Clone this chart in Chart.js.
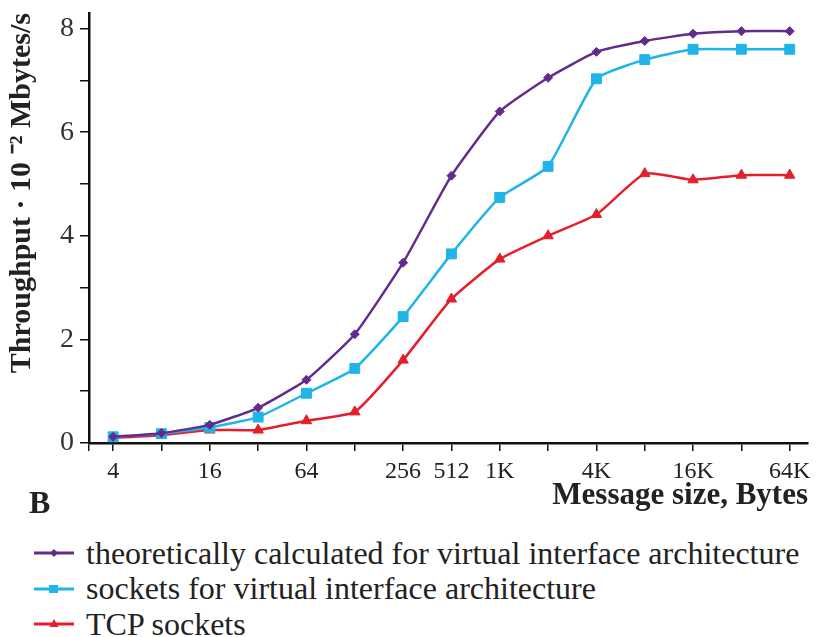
<!DOCTYPE html>
<html>
<head>
<meta charset="utf-8">
<script src="https://cdn.jsdelivr.net/npm/chart.js@4"></script>
<style>
  body { margin: 0; background: #fff; }
  #wrap { position: relative; width: 816px; height: 637px; font-family: "Liberation Serif", "Times New Roman", serif; color: #222; }
  #chart { position: absolute; left: 0; top: 0; }
  #panel { position: absolute; left: 29px; top: 484px; font-weight: bold; font-size: 32px; }
  #legend { position: absolute; left: 33px; top: 535.5px; font-size: 32px; line-height: 35.5px; }
  #legend div { display: flex; align-items: center; white-space: nowrap; height: 35.5px; }
  #legend svg { margin-right: 11px; }
</style>
</head>
<body>
<div id="wrap">
  <canvas id="chart" width="816" height="520"></canvas>
  <div id="panel">B</div>
  <div id="legend"></div>
</div>
<script>
// message sizes in bytes (x positions)
const sizes = [4, 8, 16, 32, 64, 128, 256, 512, 1024, 2048, 4096, 8192, 16384, 32768, 65536];
const sizeLabels = ['4', '', '16', '', '64', '', '256', '512', '1K', '', '4K', '', '16K', '', '64K'];
const yTicks = [0, 1, 2, 3, 4, 5, 6, 7, 8];

// throughput, 10^-2 Mbytes/s
const theoretical = [0.12, 0.19, 0.35, 0.68, 1.22, 2.1, 3.48, 5.16, 6.4, 7.05, 7.55, 7.76, 7.9, 7.95, 7.95];
const viaSockets  = [0.12, 0.18, 0.3, 0.5, 0.96, 1.44, 2.44, 3.65, 4.74, 5.34, 7.03, 7.4, 7.6, 7.6, 7.6];
const tcpSockets  = [0.1, 0.15, 0.25, 0.25, 0.43, 0.6, 1.6, 2.78, 3.55, 4.0, 4.41, 5.2, 5.08, 5.17, 5.17];

const series = [
    { label: 'theoretically calculated for virtual interface architecture', data: theoretical, color: '#632b8c', style: 'rectRot', r: 4.5 },
    { label: 'sockets for virtual interface architecture', data: viaSockets, color: '#20b4e8', style: 'rect', r: 7 },
    { label: 'TCP sockets', data: tcpSockets, color: '#e41f2b', style: 'triangle', r: 6 }
];

const xMin = 4 / Math.SQRT2;
const xMax = 65536 * 1.3;
const font = "'Liberation Serif', 'Times New Roman', serif";

new Chart(document.getElementById('chart'), {
    type: 'line',
    data: {
        datasets: series.map(s => ({
            label: s.label,
            data: sizes.map((x, i) => ({ x: x, y: s.data[i] })),
            borderColor: s.color,
            backgroundColor: s.color,
            borderWidth: 2.5,
            pointStyle: s.style,
            pointRadius: s.r,
            pointBorderWidth: 1,
            tension: 0.15
        }))
    },
    options: {
        responsive: false,
        animation: false,
        layout: { padding: { top: 13, right: 8, left: 0, bottom: 0 } },
        plugins: { legend: { display: false }, tooltip: { enabled: false } },
        scales: {
            x: {
                type: 'logarithmic',
                min: xMin,
                max: xMax,
                afterBuildTicks: scale => {
                    scale.ticks = [{ value: xMin }].concat(sizes.map(v => ({ value: v })));
                },
                afterFit: scale => {
                    scale.height = 77;
                    scale.paddingLeft = 0;
                    scale.paddingRight = 0;
                },
                ticks: {
                    autoSkip: false,
                    maxRotation: 0,
                    color: '#222',
                    font: { family: font, size: 24 },
                    padding: 6,
                    callback: (value) => {
                        const i = sizes.indexOf(value);
                        return i >= 0 ? sizeLabels[i] : '';
                    }
                },
                grid: { drawOnChartArea: false, tickLength: 8, color: '#111', lineWidth: 1.5 },
                border: { color: '#111', width: 2.5 },
                title: {
                    display: true,
                    text: 'Message size, Bytes',
                    align: 'end',
                    color: '#222',
                    font: { family: font, size: 31, weight: 'bold' },
                    padding: { top: 0, bottom: 5 }
                }
            },
            y: {
                min: 0,
                max: 8.3,
                afterBuildTicks: scale => {
                    scale.ticks = yTicks.map(v => ({ value: v }));
                },
                afterFit: scale => {
                    scale.width = 89;
                    scale.paddingTop = 0;
                    scale.paddingBottom = 0;
                },
                ticks: {
                    color: '#333',
                    font: { family: font, size: 28 },
                    padding: 6,
                    callback: v => (v % 2 === 0 ? String(v) : '')
                },
                grid: { drawOnChartArea: false, tickLength: 9, color: '#111', lineWidth: 1.5 },
                border: { color: '#111', width: 2.5 },
                title: {
                    display: true,
                    text: 'Throughput · 10 ⁻² Mbytes/s',
                    align: 'end',
                    color: '#222',
                    font: { family: font, size: 30, weight: 'bold' },
                    padding: { top: 4, bottom: 0 }
                }
            }
        }
    }
});

// legend: short line with the series marker, then the label
function markerSvg(s) {
    let m = '';
    if (s.style === 'rectRot') m = '<polygon points="21,7 25,11 21,15 17,11" fill="' + s.color + '"/>';
    if (s.style === 'rect') m = '<rect x="16" y="7" width="9" height="8" fill="' + s.color + '"/>';
    if (s.style === 'triangle') m = '<polygon points="21,6 25.5,14 16.5,14" fill="' + s.color + '"/>';
    return '<svg width="42" height="22"><line x1="1" y1="11" x2="41" y2="11" stroke="' + s.color + '" stroke-width="3"/>' + m + '</svg>';
}
document.getElementById('legend').innerHTML = series.map(s =>
    '<div>' + markerSvg(s) + '<span>' + s.label + '</span></div>'
).join('');
</script>
</body>
</html>
